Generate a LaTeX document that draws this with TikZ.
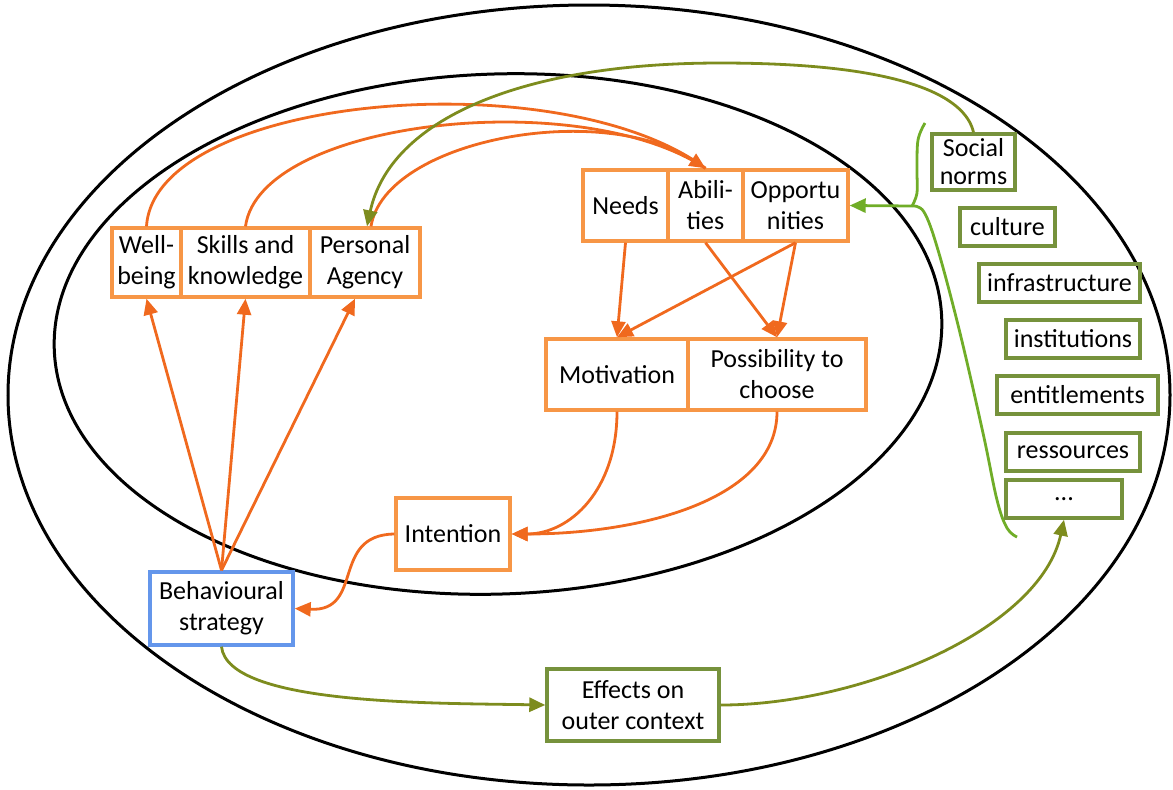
\documentclass[tikz,border=0pt]{standalone}
\usepackage{fontspec}
\setmainfont{Carlito}
\usetikzlibrary{arrows.meta}
\definecolor{obox}{RGB}{247,150,70}
\definecolor{oarr}{RGB}{240,105,30}
\definecolor{bbox}{RGB}{100,150,235}
\definecolor{gbox}{RGB}{118,146,60}
\definecolor{garr}{RGB}{125,140,30}
\definecolor{lgreen}{RGB}{112,173,40}
\begin{document}
\begin{tikzpicture}[x=0.5pt,y=-0.5pt,
  box/.style={draw, line width=1.7pt, inner sep=0pt, align=center, font=\fontsize{13}{15.5}\selectfont},
  ob/.style={box, draw=obox},
  gb/.style={box, draw=gbox, minimum height=19pt},
  tip/.style={-{Triangle[length=8pt,width=7pt]}},
  oa/.style={tip, draw=oarr, line width=1.4pt},
  ga/.style={tip, draw=garr, line width=1.4pt},
  ring/.style={draw=black, line width=1.5pt}]
\useasboundingbox (0,0) rectangle (1173,789);
% ellipses
\draw[ring] (589,395) ellipse [x radius=581, y radius=390];
\draw[ring, rotate around={2:(498,334)}] (498,334) ellipse [x radius=444, y radius=260];
% orange boxes
\node[ob, minimum width=34.5pt, minimum height=34.5pt] (wb) at (146.5,262.5) {Well-\\being};
\node[ob, minimum width=64.5pt, minimum height=34.5pt] (sk) at (245.5,262.5) {Skills and\\knowledge};
\node[ob, minimum width=55pt, minimum height=34.5pt] (pa) at (365,262.5) {Personal\\Agency};
\node[ob, minimum width=42.5pt, minimum height=35.5pt] (ne) at (625.5,205.5) {Needs};
\node[ob, minimum width=37.5pt, minimum height=35.5pt] (ab) at (705.5,205.5) {Abili-\\ties};
\node[ob, minimum width=52.5pt, minimum height=35.5pt] (op) at (795.5,205.5) {Opportu\\nities};
\node[ob, minimum width=71pt, minimum height=35.5pt] (mo) at (617,374.5) {Motivation};
\node[ob, minimum width=89pt, minimum height=35.5pt] (po) at (777,374.5) {Possibility to\\choose};
\node[ob, minimum width=57pt, minimum height=36pt] (in) at (453,534) {Intention};
\node[box, draw=bbox, minimum width=71.5pt, minimum height=36.5pt] (bs) at (221.5,608.5) {Behavioural\\strategy};
% green boxes
\node[box, draw=gbox, minimum width=86pt, minimum height=36pt] (ef) at (633,705) {Effects on\\outer context};
\node[box, draw=gbox, minimum width=41.5pt, minimum height=28pt, font=\fontsize{13}{14}\selectfont] (sn) at (973.5,162) {Social\\norms};
\node[gb, minimum width=47.5pt] (cu) at (1007.5,227) {culture};
\node[gb, minimum width=80.5pt] (inf) at (1059.5,283) {infrastructure};
\node[gb, minimum width=67pt] (ins) at (1073,339) {institutions};
\node[gb, minimum width=80.5pt] (en) at (1077.5,395) {entitlements};
\node[gb, minimum width=67pt] (re) at (1073,452) {ressources};
\node[gb, minimum width=58pt] (dt) at (1064,499) {...};
% orange curves to abilities
\draw[oarr, line width=1.4pt] (wb.north) .. controls (155,95) and (560,60) .. (ab.north);
\draw[oarr, line width=1.4pt] (sk.north) .. controls (260,120) and (580,85) .. (ab.north);
\draw[oa] ([xshift=3pt]pa.north) .. controls (385,140) and (600,100) .. (ab.north);
% green curve social norms -> personal agency
\draw[ga] (sn.north) .. controls (965,95) and (900,63) .. (720,63) .. controls (520,63) and (390,120) .. ([xshift=1pt]pa.north);
% brace
\coordinate (br) at (912,206);
\draw[lgreen, line width=1.4pt] plot[smooth, tension=0.6] coordinates {(925,123) (918,140) (917,170) (917,193) (912,206)};
\draw[lgreen, line width=1.4pt] plot[smooth, tension=0.6] coordinates {(912,206) (924,212) (938,250) (960,333) (983,433) (997,500) (1007,528) (1017,537)};
\draw[tip, draw=lgreen, fill=lgreen, line width=1.4pt] (br) -- (op.east);
% behavioural strategy to top boxes
\draw[oa] (bs.north) -- (wb.south);
\draw[oa] (bs.north) -- (sk.south);
\draw[oa] (bs.north) -- ([xshift=-5pt]pa.south);
% needs etc.
\draw[oa] (ne.south) -- (mo.north);
\draw[oa] (op.south) -- (mo.north);
\draw[oa] (ab.south) -- (po.north);
\draw[oa] (op.south) -- (po.north);
% to intention
\draw[oa] (mo.south) .. controls (617,490) and (570,534) .. (in.east);
\draw[oa] (po.south) .. controls (777,500) and (640,534) .. (in.east);
% intention to behavioural strategy
\draw[oa] (in.west) .. controls (330,535) and (365,612) .. (bs.east);
% outer loop
\draw[ga] (bs.south) .. controls (228,705) and (430,703) .. (ef.west);
\draw[ga] (ef.east) .. controls (860,705) and (1040,630) .. (dt.south);
\end{tikzpicture}
\end{document}
